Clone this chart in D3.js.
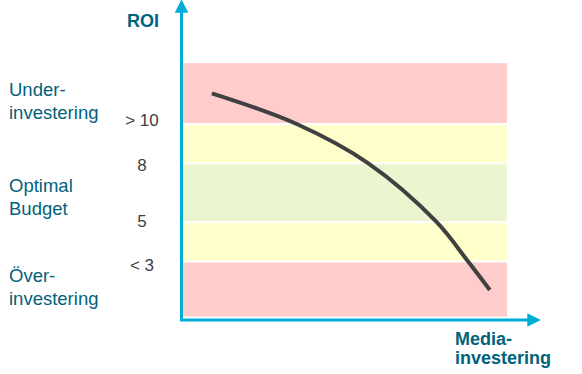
<!DOCTYPE html>
<html>
<head>
<meta charset="utf-8">
<script src="https://cdn.jsdelivr.net/npm/d3@7"></script>
<style>
  body { margin: 0; background: #fff; }
  text { font-family: Arial, "Liberation Sans", sans-serif; }
</style>
</head>
<body>
<div id="chart"></div>
<script>
// ROI zones (bottom/top ROI values of each band)
const bandLow = [10, 8, 5, 3, 0.2];
const bandHigh = [13.1, 10, 8, 5, 3];
const bandColors = ['#ffcccc', '#ffffcc', '#ebf5cf', '#ffffcc', '#ffcccc'];

// tick labels on the ROI axis and the ROI where they sit
const tickLabels = ['> 10', '8', '5', '< 3'];
const tickRoi = [10.2, 7.9, 5.05, 2.8];

// zone names
const zoneLines = [['Under-', 'investering'], ['Optimal', 'Budget'], ['Över-', 'investering']];
const zoneRoi = [11.45, 6.54, 1.96];

// ROI curve
const mediaInvestment = [0.89, 3.51, 5.72, 7.81, 8.8, 9.47];
const roi = [11.56, 10.0, 8.0, 5.04, 3.0, 1.55];

const width = 582, height = 374;
const teal = '#00627c', cyan = '#00acd8';

const svg = d3.select('#chart')
  .append('svg')
  .attr('width', width)
  .attr('height', height);

const x = d3.scaleLinear().domain([0, 10]).range([183, 507]);
const y = d3.scaleLinear().domain([3, 10]).range([261.5, 124]);

// bands
svg.selectAll('rect.band')
  .data(bandLow)
  .join('rect')
  .attr('class', 'band')
  .attr('x', x(0))
  .attr('width', x(10) - x(0))
  .attr('y', (d, i) => y(bandHigh[i]) + (i === 0 ? 0 : 1))
  .attr('height', (d, i) => y(d) - y(bandHigh[i]) - (i === 0 || i === 4 ? 1 : 2))
  .attr('fill', (d, i) => bandColors[i]);

// curve
const line = d3.line()
  .x(d => x(d[0]))
  .y(d => y(d[1]))
  .curve(d3.curveCatmullRom.alpha(0.5));

svg.append('path')
  .datum(mediaInvestment.map((m, i) => [m, roi[i]]))
  .attr('d', line)
  .attr('fill', 'none')
  .attr('stroke', '#404040')
  .attr('stroke-width', 4);

// arrow marker
svg.append('defs').append('marker')
  .attr('id', 'arrow')
  .attr('viewBox', [0, 0, 10, 10])
  .attr('refX', 2)
  .attr('refY', 5)
  .attr('markerWidth', 4.5)
  .attr('markerHeight', 4.5)
  .attr('markerUnits', 'strokeWidth')
  .attr('orient', 'auto')
  .append('path')
  .attr('d', d3.line()([[0, 0], [10, 5], [0, 10]]))
  .attr('fill', cyan);

// axes
svg.append('path')
  .attr('d', d3.line()([[181.5, 320], [181.5, 10]]))
  .attr('stroke', cyan)
  .attr('stroke-width', 3)
  .attr('marker-end', 'url(#arrow)');

svg.append('path')
  .attr('d', d3.line()([[180, 320], [530, 320]]))
  .attr('stroke', cyan)
  .attr('stroke-width', 3)
  .attr('marker-end', 'url(#arrow)');

// axis titles
svg.append('text')
  .attr('x', 127).attr('y', 27)
  .attr('fill', teal)
  .style('font-size', '18px')
  .style('font-weight', 'bold')
  .text('ROI');

svg.append('text')
  .attr('x', 455).attr('y', 345)
  .attr('fill', teal)
  .style('font-size', '18px')
  .style('font-weight', 'bold')
  .selectAll('tspan')
  .data(['Media-', 'investering'])
  .join('tspan')
  .attr('x', 455)
  .attr('dy', (d, i) => i === 0 ? 0 : 19)
  .text(d => d);

// tick labels
svg.selectAll('text.tick')
  .data(tickLabels)
  .join('text')
  .attr('class', 'tick')
  .attr('x', 142)
  .attr('y', (d, i) => y(tickRoi[i]))
  .attr('dy', '0.35em')
  .attr('text-anchor', 'middle')
  .attr('fill', '#404040')
  .style('font-size', '17px')
  .text(d => d);

// zone labels
svg.selectAll('text.zone')
  .data(zoneLines)
  .join('text')
  .attr('class', 'zone')
  .attr('fill', teal)
  .style('font-size', '18.5px')
  .attr('y', (d, i) => y(zoneRoi[i]))
  .each(function (d, i) {
    d3.select(this).selectAll('tspan')
      .data(d)
      .join('tspan')
      .attr('x', 9)
      .attr('dy', (t, j) => j === 0 ? 0 : 23)
      .text(t => t);
  });
</script>
</body>
</html>
